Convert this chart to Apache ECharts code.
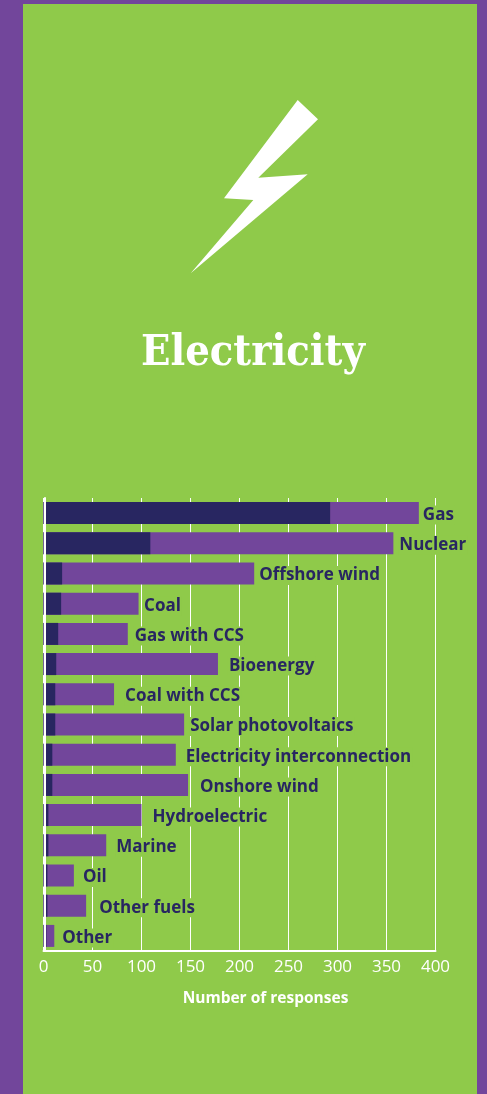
<!DOCTYPE html>
<html><head><meta charset="utf-8">
<style>html,body{margin:0;padding:0;background:#72469b}#c{width:487px;height:1094px}</style>
<script src="https://cdn.jsdelivr.net/npm/echarts@6/dist/echarts.min.js"></script>
</head><body><div id="c"></div>
<script>
const categories=["Gas","Nuclear","Offshore wind","Coal","Gas with CCS","Bioenergy","Coal with CCS","Solar photovoltaics","Electricity interconnection","Onshore wind","Hydroelectric","Marine","Oil","Other fuels","Other"];
const totalResponses=[383,357,215,97,86,178,72,143.5,135,147.5,100,64,31,43.5,11];
const darkResponses=[292.5,109,19,18,15,13,12,12,9,9,5,5,4,4,3];
const xTicks=[0,50,100,150,200,250,300,350,400];
const labelGaps=[3,5,4,4.5,6,10,10,5,9,11,10,9,8,12,7];
const GREEN='#8fca4a',PURPLE='#72469b',NAVY='#282661';
const FONT='"Open Sans","Noto Sans",sans-serif';
const chart=echarts.init(document.getElementById('c'),null,{renderer:'canvas'});
chart.setOption({
  animation:false,
  backgroundColor:PURPLE,
  title:{text:'Electricity',left:136,top:327,
    textStyle:{fontFamily:'"DejaVu Serif Condensed","DejaVu Serif",serif',fontWeight:'bold',fontSize:43,color:'#fff'}},
  graphic:[
    {type:'rect',z:-10,shape:{x:23,y:4,width:454,height:1090},style:{fill:GREEN},silent:true},
    {type:'polygon',z:-5,shape:{points:[[297.7,100],[318,119.3],[258.3,177.7],[307.7,174.3],[190.7,273.3],[253.3,200],[224,198.3]]},style:{fill:'#fff'},silent:true}
  ],
  grid:{left:43.5,right:51.5,top:498,bottom:143,containLabel:false},
  xAxis:{type:'value',min:0,max:400,interval:50,
    axisLine:{show:true,lineStyle:{color:'#fff',width:2}},axisTick:{show:false},
    axisLabel:{color:'#fff',fontFamily:FONT,fontSize:17,margin:8,formatter:v=>xTicks.includes(v)?String(v):''},
    splitLine:{show:true,lineStyle:{color:'#fff',width:1}},
    name:'Number of responses',nameLocation:'middle',nameGap:40,
    nameTextStyle:{color:'#fff',fontFamily:FONT,fontWeight:'bold',fontSize:15.5,padding:[0,0,0,52]}},
  yAxis:{type:'category',inverse:true,data:categories,zlevel:1,offset:-1,
    axisLine:{show:true,lineStyle:{color:'#fff',width:2}},axisTick:{show:false},axisLabel:{show:false},splitLine:{show:false}},
  series:[
    {name:'Total',type:'bar',barWidth:22,barGap:'-100%',itemStyle:{color:PURPLE},
     data:totalResponses.map((v,i)=>({value:v,label:{show:true,position:'right',distance:labelGaps[i],offset:[0,2],formatter:categories[i],
       color:NAVY,fontFamily:FONT,fontWeight:'bold',fontSize:17,backgroundColor:GREEN,padding:[1,1,1,1]}}))},
    {name:'Dark',type:'bar',barWidth:22,barGap:'-100%',itemStyle:{color:NAVY},data:darkResponses}
  ]
});
</script></body></html>
